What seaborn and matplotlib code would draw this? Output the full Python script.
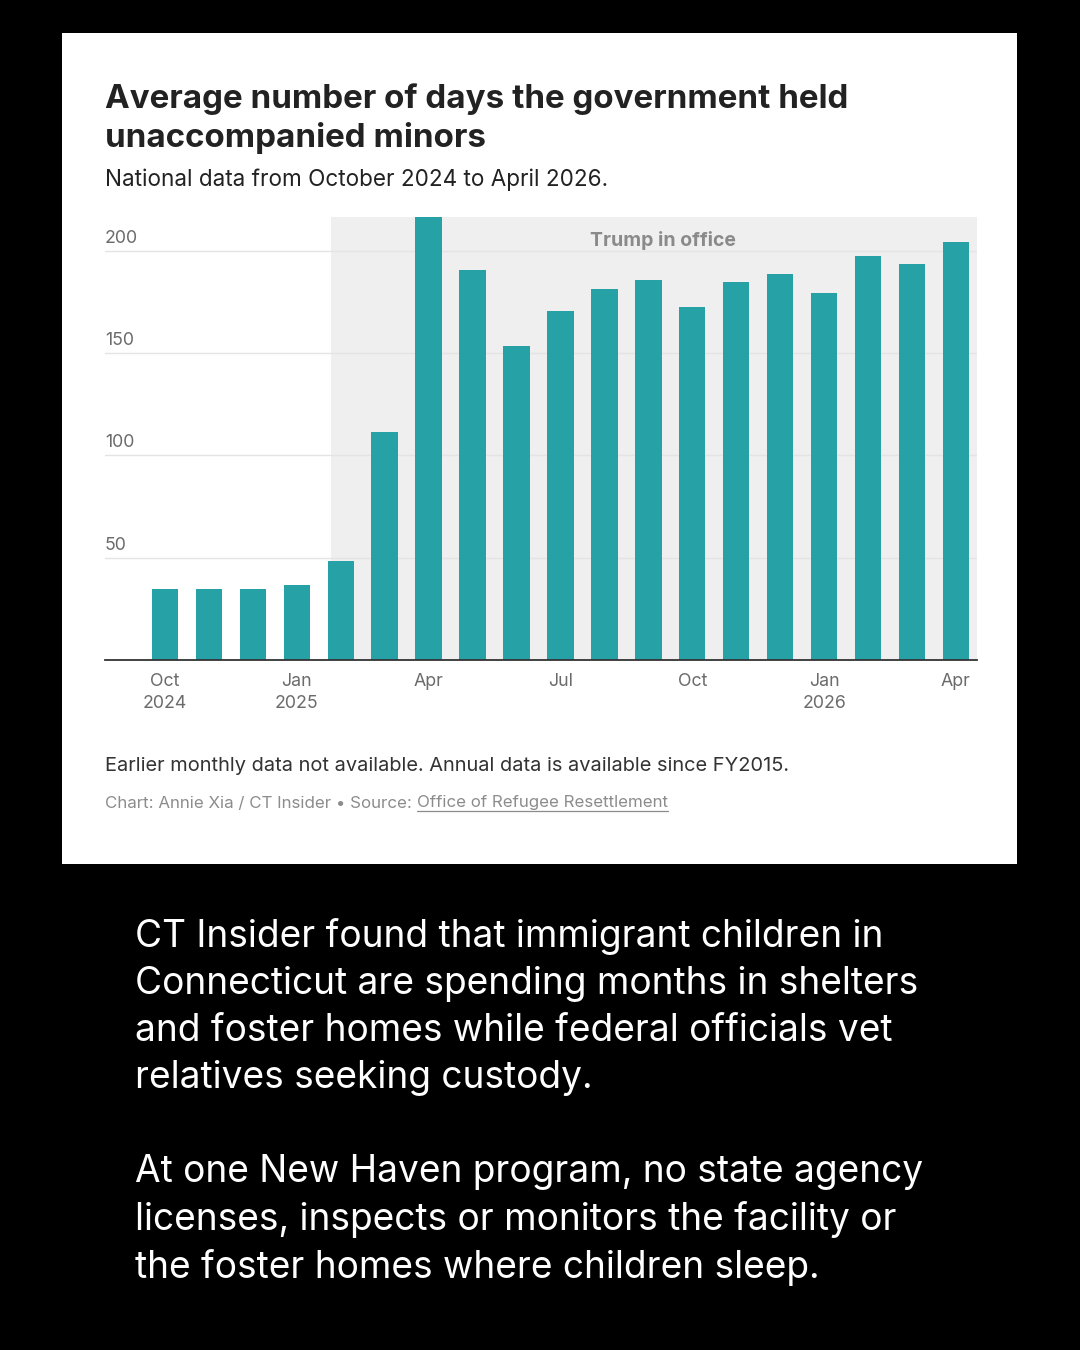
import matplotlib
matplotlib.use("Agg")
import matplotlib.pyplot as plt
import seaborn as sns
import pandas as pd
from matplotlib.patches import Rectangle
from matplotlib.lines import Line2D

# data
months = ["Oct 2024", "Nov 2024", "Dec 2024", "Jan 2025", "Feb 2025", "Mar 2025",
          "Apr 2025", "May 2025", "Jun 2025", "Jul 2025", "Aug 2025", "Sep 2025",
          "Oct 2025", "Nov 2025", "Dec 2025", "Jan 2026", "Feb 2026", "Mar 2026",
          "Apr 2026"]
avg_days = [34.5, 34.5, 34.5, 36.5, 48.5, 111.5, 216.5, 190.5, 153.5, 170.5,
            181.5, 185.5, 172.5, 184.5, 188.5, 179.5, 197.5, 193.5, 204.5]
tick_idx = [0, 3, 6, 9, 12, 15, 18]
tick_labels = ["Oct\n2024", "Jan\n2025", "Apr", "Jul", "Oct", "Jan\n2026", "Apr"]
y_ticks = [50, 100, 150, 200]
trump_start = "Feb 2025"

df = pd.DataFrame({"month": months, "days": avg_days})

sns.set_theme(style="white")
plt.rcParams["font.family"] = ["Inter", "DejaVu Sans"]

W, H = 1080, 1350
fig = plt.figure(figsize=(10.8, 13.5), dpi=100)
fig.patch.set_facecolor("black")

# white card behind the chart
fig.patches.append(Rectangle((62 / W, 1 - 864 / H), (1017 - 62) / W, (864 - 33) / H,
                             transform=fig.transFigure, facecolor="white",
                             edgecolor="none", zorder=-1))

ax = fig.add_axes([105 / W, 1 - 660 / H, (977 - 105) / W, (660 - 217) / H])
ax.set_facecolor("none")

sns.barplot(data=df, x="month", y="days", order=months, color="#26A1A5",
            width=0.6, saturation=1, linewidth=0, ax=ax, zorder=3)

xmin, xmax = -1.365, 18.48
ymax = max(avg_days)
ax.set_xlim(xmin, xmax)
ax.set_ylim(0, ymax)

# shaded "Trump in office" region
start = months.index(trump_start) - 0.22
ax.axvspan(start, xmax, color="#EFEFEF", zorder=0, lw=0)
ax.text((start + xmax) / 2 + 0.2, 205, "Trump in office", ha="center", va="center",
        fontsize=14, fontweight="bold", color="#8A8A8A", zorder=4)

# gridlines and y labels sitting above them
for t in y_ticks:
    ax.axhline(t, color="#E4E4E4", lw=1, zorder=1)
    ax.text(xmin, t + 2, str(t), ha="left", va="bottom", fontsize=12.8,
            color="#6B6B6B", zorder=4)
ax.set_yticks([])
ax.set_ylabel("")
ax.set_xlabel("")

ax.set_xticks(tick_idx)
ax.set_xticklabels(tick_labels, fontsize=12.8, color="#6B6B6B", linespacing=1.4)
ax.tick_params(axis="x", length=0, pad=9)

for s in ["top", "right", "left"]:
    ax.spines[s].set_visible(False)
ax.spines["bottom"].set_color("#333333")
ax.spines["bottom"].set_linewidth(1.3)
ax.spines["bottom"].set_zorder(5)

# titles
fig.text(105 / W, 1 - 83 / H, "Average number of days the government held\nunaccompanied minors",
         ha="left", va="top", fontsize=23.85, fontweight="bold", color="#222222",
         linespacing=1.3)
fig.text(105 / W, 1 - 180 / H, "National data from October 2024 to April 2026.",
         ha="left", va="center", fontsize=16.2, color="#222222")

# notes
fig.text(105 / W, 1 - 766 / H,
         "Earlier monthly data not available. Annual data is available since FY2015.",
         ha="left", va="center", fontsize=14.4, color="#333333")
credit = fig.text(105 / W, 1 - 803 / H, "Chart: Annie Xia / CT Insider \u2022 Source: ",
                  ha="left", va="center", fontsize=12.2, color="#8C8C8C")
renderer = fig.canvas.get_renderer()
bb = credit.get_window_extent(renderer)
src = fig.text(bb.x1 / W, 1 - 803 / H, "Office of Refugee Resettlement",
               ha="left", va="center", fontsize=12.2, color="#8C8C8C")
bb2 = src.get_window_extent(renderer)
fig.lines.append(Line2D([bb2.x0 / W, bb2.x1 / W], [bb2.y0 / H - 0.0005] * 2,
                        transform=fig.transFigure, color="#8C8C8C", lw=0.9))

# body text below the card
body = ("CT Insider found that immigrant children in\n"
        "Connecticut are spending months in shelters\n"
        "and foster homes while federal officials vet\n"
        "relatives seeking custody.\n"
        "\n"
        "At one New Haven program, no state agency\n"
        "licenses, inspects or monitors the facility or\n"
        "the foster homes where children sleep.")
fig.text(135 / W, 1 - 918 / H, body, ha="left", va="top", fontsize=26.7,
         color="white", linespacing=1.39)

fig.savefig("out.png", dpi=100, facecolor=fig.get_facecolor())
